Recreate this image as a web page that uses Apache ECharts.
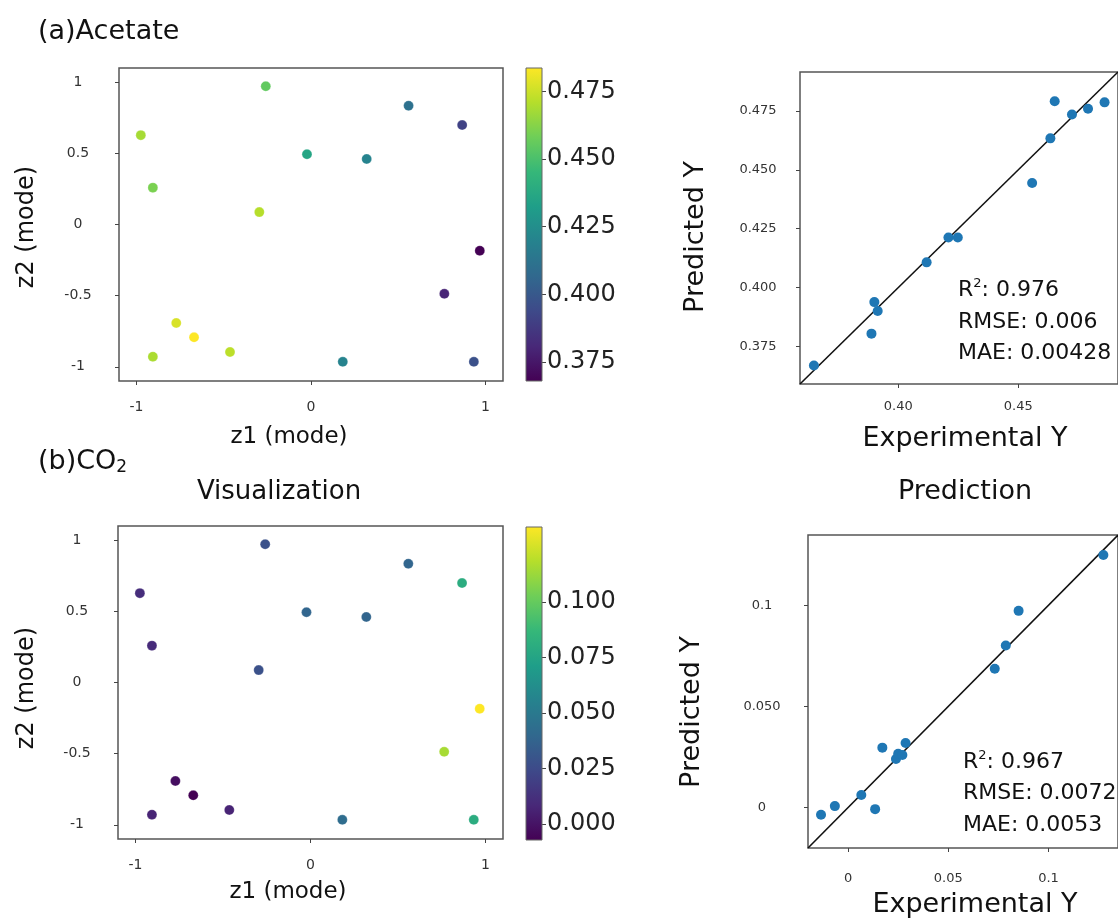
<!DOCTYPE html>
<html>
<head>
<meta charset="utf-8">
<script src="https://cdn.jsdelivr.net/npm/echarts@6/dist/echarts.min.js"></script>
<style>
html,body{margin:0;padding:0;background:#fff;}
#main{width:1118px;height:921px;}
</style>
</head>
<body>
<div id="main"></div>
<script>
// latent coordinates of the 16 samples (same for both panels)
var z1 = [-0.975, -0.259, 0.559, 0.866, -0.023, 0.319, -0.906, -0.296, 0.967, 0.764, -0.772, -0.670, -0.906, -0.464, 0.182, 0.933];
var z2 = [0.628, 0.972, 0.835, 0.699, 0.494, 0.461, 0.259, 0.087, -0.184, -0.487, -0.692, -0.793, -0.929, -0.896, -0.965, -0.965];
// colour values
var acetateVal = [0.468, 0.455, 0.411, 0.391, 0.436, 0.420, 0.460, 0.471, 0.368, 0.380, 0.477, 0.4836, 0.469, 0.472, 0.420, 0.397];
var co2Val = [0.011, 0.028, 0.039, 0.080, 0.039, 0.038, 0.010, 0.028, 0.1337, 0.115, -0.002, -0.0072, 0.007, 0.007, 0.043, 0.080];
// parity data
var acetateExp = [0.3648, 0.3888, 0.3900, 0.3914, 0.4118, 0.4209, 0.4248, 0.4558, 0.4634, 0.4652, 0.4724, 0.4791, 0.4860];
var acetatePred = [0.3669, 0.3804, 0.3938, 0.3900, 0.4107, 0.4213, 0.4213, 0.4444, 0.4634, 0.4792, 0.4735, 0.4760, 0.4787];
var co2Exp = [-0.0135, -0.0066, 0.0066, 0.0135, 0.0171, 0.0239, 0.0250, 0.0271, 0.0287, 0.0732, 0.0787, 0.0851, 0.1274];
var co2Pred = [-0.0036, 0.0007, 0.0062, -0.0008, 0.0296, 0.0240, 0.0266, 0.0260, 0.0319, 0.0686, 0.0801, 0.0972, 0.1248];
// ranges and ticks
var acetateRange = [0.368, 0.4836];
var co2Range = [-0.0072, 0.1337];
var acetateParityRange = [0.359, 0.4916];
var co2ParityRange = [-0.02, 0.1347];
var z1Ticks = [-1, 0, 1];
var z2Ticks = [-1, -0.5, 0, 0.5, 1];
var acetateCbTicks = [0.375, 0.400, 0.425, 0.450, 0.475];
var co2CbTicks = [0, 0.025, 0.05, 0.075, 0.1];
var acetateParityXTicks = [0.40, 0.45];
var acetateParityYTicks = [0.375, 0.400, 0.425, 0.450, 0.475];
var co2ParityXTicks = [0, 0.05, 0.1];
var co2ParityXLabels = ['0', '0.05', '0.1'];
var co2ParityYTicks = [0, 0.05, 0.1];
var co2ParityYLabels = ['0', '0.050', '0.1'];
var acetateStats = ['0.976', '0.006', '0.00428'];
var co2Stats = ['0.967', '0.0072', '0.0053'];

var viridis = ['#440154', '#482878', '#3e4989', '#31688e', '#26828e', '#1f9e89', '#35b779', '#6ece58', '#b5de2b', '#fde725'];
var FONT = 'DejaVu Sans';

var myChart = echarts.init(document.getElementById('main'));

function pts(a, b, c) {
	var out = [];
	for (var i = 0; i < a.length; i++) out.push(c ? [a[i], b[i], c[i]] : [a[i], b[i]]);
	return out;
}

function cbRender(lo, hi) {
	var stops = [];
	for (var i = 0; i < viridis.length; i++) stops.push({offset: i / (viridis.length - 1), color: viridis[viridis.length - 1 - i]});
	return function (params, api) {
		var p1 = api.coord([0, hi]), p2 = api.coord([1, lo]);
		return {
			type: 'rect',
			shape: {x: p1[0], y: p1[1], width: p2[0] - p1[0], height: p2[1] - p1[1]},
			style: {fill: new echarts.graphic.LinearGradient(0, 0, 0, 1, stops), stroke: '#666', lineWidth: 1}
		};
	};
}

var gridStyle = {show: true, borderColor: '#555', borderWidth: 1.5, backgroundColor: 'transparent'};
function grid(l, t, w, h, box) {
	var g = {left: l, top: t, width: w, height: h, containLabel: false};
	if (box) for (var k in gridStyle) g[k] = gridStyle[k];
	return g;
}

function valAxis(idx, range, ticks, opt) {
	opt = opt || {};
	return {
		type: 'value', gridIndex: idx, min: range[0], max: range[1],
		position: opt.position,
		axisLine: {show: false, onZero: false},
		splitLine: {show: false},
		axisTick: {show: true, inside: false, length: 4, customValues: ticks, lineStyle: {color: '#444', width: 1}},
		axisLabel: {
			show: true, customValues: ticks, fontFamily: FONT, fontSize: opt.fontSize || 13,
			color: opt.color || '#333', margin: opt.margin || 8, align: opt.align,
			formatter: opt.formatter
		}
	};
}
function hiddenAxis(idx) {
	return {type: 'value', gridIndex: idx, min: 0, max: 1, show: false};
}

function fmtList(ticks, labels) {
	return function (v) {
		for (var i = 0; i < ticks.length; i++) if (Math.abs(ticks[i] - v) < 1e-9) return labels[i];
		return '';
	};
}

var option = {
	backgroundColor: '#fff',
	animation: false,
	grid: [
		grid(119, 68, 384, 313, true),
		grid(526, 68, 16, 313, false),
		grid(800, 72, 320, 312, true),
		grid(118, 526, 385, 313, true),
		grid(526, 527, 16, 313, false),
		grid(808, 535, 321, 313, true)
	],
	xAxis: [
		valAxis(0, [-1.1, 1.1], z1Ticks, {fontSize: 14, margin: 19}),
		hiddenAxis(1),
		valAxis(2, acetateParityRange, acetateParityXTicks, {margin: 16, formatter: function (v) { return v.toFixed(2); }}),
		valAxis(3, [-1.1, 1.1], z1Ticks, {fontSize: 14, margin: 19}),
		hiddenAxis(4),
		valAxis(5, co2ParityRange, co2ParityXTicks, {margin: 24, formatter: fmtList(co2ParityXTicks, co2ParityXLabels)})
	],
	yAxis: [
		valAxis(0, [-1.1, 1.1], z2Ticks, {fontSize: 14, margin: 41, align: 'center'}),
		valAxis(1, acetateRange, acetateCbTicks, {position: 'right', fontSize: 24, color: '#222', margin: 5, formatter: function (v) { return v.toFixed(3); }}),
		valAxis(2, acetateParityRange, acetateParityYTicks, {margin: 42, align: 'center', formatter: function (v) { return v.toFixed(3); }}),
		valAxis(3, [-1.1, 1.1], z2Ticks, {fontSize: 14, margin: 41, align: 'center'}),
		valAxis(4, co2Range, co2CbTicks, {position: 'right', fontSize: 24, color: '#222', margin: 5, formatter: function (v) { return v.toFixed(3); }}),
		valAxis(5, co2ParityRange, co2ParityYTicks, {margin: 46, align: 'center', formatter: fmtList(co2ParityYTicks, co2ParityYLabels)})
	],
	visualMap: [
		{show: false, type: 'continuous', seriesIndex: 0, dimension: 2, min: acetateRange[0], max: acetateRange[1], inRange: {color: viridis}},
		{show: false, type: 'continuous', seriesIndex: 4, dimension: 2, min: co2Range[0], max: co2Range[1], inRange: {color: viridis}}
	],
	series: [
		{type: 'scatter', xAxisIndex: 0, yAxisIndex: 0, symbolSize: 10, itemStyle: {opacity: 1, borderColor: 'rgba(255,255,255,0.5)', borderWidth: 0.5}, data: pts(z1, z2, acetateVal)},
		{type: 'custom', xAxisIndex: 1, yAxisIndex: 1, renderItem: cbRender(acetateRange[0], acetateRange[1]), data: [[0, acetateRange[0]]], silent: true},
		{type: 'line', xAxisIndex: 2, yAxisIndex: 2, symbol: 'none', lineStyle: {color: '#111', width: 1.6}, data: [[acetateParityRange[0], acetateParityRange[0]], [acetateParityRange[1], acetateParityRange[1]]], z: 3},
		{type: 'scatter', xAxisIndex: 2, yAxisIndex: 2, symbolSize: 10, itemStyle: {color: '#1f77b4', opacity: 1}, data: pts(acetateExp, acetatePred), z: 4},
		{type: 'scatter', xAxisIndex: 3, yAxisIndex: 3, symbolSize: 10, itemStyle: {opacity: 1, borderColor: 'rgba(255,255,255,0.5)', borderWidth: 0.5}, data: pts(z1, z2, co2Val)},
		{type: 'custom', xAxisIndex: 4, yAxisIndex: 4, renderItem: cbRender(co2Range[0], co2Range[1]), data: [[0, co2Range[0]]], silent: true},
		{type: 'line', xAxisIndex: 5, yAxisIndex: 5, symbol: 'none', lineStyle: {color: '#111', width: 1.6}, data: [[co2ParityRange[0], co2ParityRange[0]], [co2ParityRange[1], co2ParityRange[1]]], z: 3},
		{type: 'scatter', xAxisIndex: 5, yAxisIndex: 5, symbolSize: 10, itemStyle: {color: '#1f77b4', opacity: 1}, data: pts(co2Exp, co2Pred), z: 4}
	],
	graphic: []
};

function txt(x, y, text, size, opt) {
	opt = opt || {};
	return {
		type: 'text', x: x, y: y, rotation: opt.rot || 0, silent: true,
		style: {text: text, fontFamily: FONT, fontSize: size, fill: '#111', align: opt.align || 'center', verticalAlign: 'middle', rich: opt.rich}
	};
}
var supRich = {s: {fontFamily: FONT, fontSize: 13, fill: '#111', padding: [0, 0, 12, 0]}};
var subRich = {b: {fontFamily: FONT, fontSize: 17, fill: '#111', padding: [12, 0, 0, 0]}};
var g = option.graphic;
g.push(txt(38, 32, '(a)Acetate', 27, {align: 'left'}));
g.push(txt(38, 462, '(b)CO{b|2}', 27, {align: 'left', rich: subRich}));
g.push(txt(279, 492, 'Visualization', 26));
g.push(txt(965, 492, 'Prediction', 27));
g.push(txt(289, 437, 'z1 (mode)', 23));
g.push(txt(288, 892, 'z1 (mode)', 23));
g.push(txt(27, 227, 'z2 (mode)', 24, {rot: Math.PI / 2}));
g.push(txt(27, 688, 'z2 (mode)', 24, {rot: Math.PI / 2}));
g.push(txt(965, 439, 'Experimental Y', 27));
g.push(txt(975, 905, 'Experimental Y', 27));
g.push(txt(696, 237, 'Predicted Y', 27, {rot: Math.PI / 2}));
g.push(txt(692, 712, 'Predicted Y', 27, {rot: Math.PI / 2}));
var statNames = ['R{s|2}: ', 'RMSE: ', 'MAE: '];
var aY = [290, 322, 353], bY = [762, 793, 825];
for (var i = 0; i < 3; i++) {
	g.push(txt(958, aY[i], statNames[i] + acetateStats[i], 22, {align: 'left', rich: supRich}));
	g.push(txt(963, bY[i], statNames[i] + co2Stats[i], 22, {align: 'left', rich: supRich}));
}

myChart.setOption(option);
</script>
</body>
</html>
